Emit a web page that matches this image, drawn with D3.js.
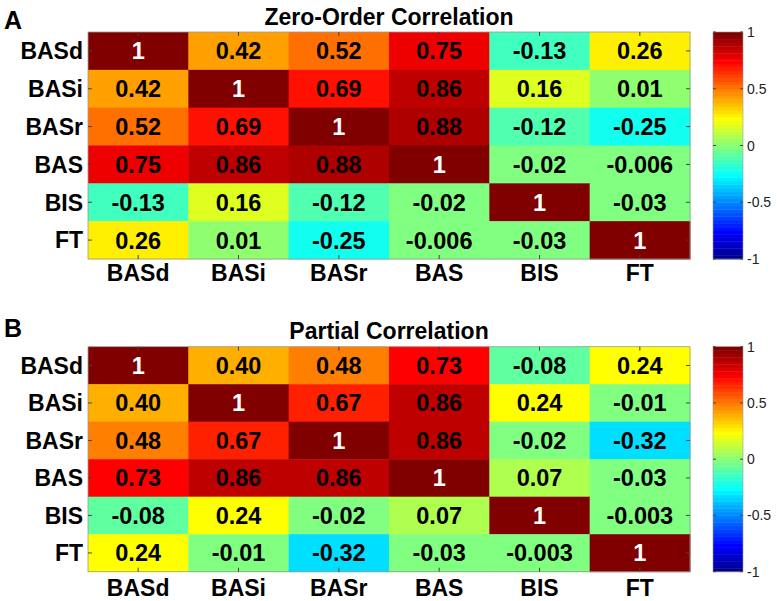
<!DOCTYPE html>
<html>
<head>
<meta charset="utf-8">
<script src="https://cdn.jsdelivr.net/npm/d3@7"></script>
<style>
  html, body { margin: 0; padding: 0; background: #fff; }
  svg { display: block; font-family: "Liberation Sans", Arial, Helvetica, sans-serif; }
</style>
</head>
<body>
<svg id="chart" width="777" height="601"></svg>
<script>
// ---- Data ----
const categories = ["BASd", "BASi", "BASr", "BAS", "BIS", "FT"];
const zeroOrder = [
  [1, 0.42, 0.52, 0.75, -0.13, 0.26],
  [0.42, 1, 0.69, 0.86, 0.16, 0.01],
  [0.52, 0.69, 1, 0.88, -0.12, -0.25],
  [0.75, 0.86, 0.88, 1, -0.02, -0.006],
  [-0.13, 0.16, -0.12, -0.02, 1, -0.03],
  [0.26, 0.01, -0.25, -0.006, -0.03, 1]
];
const partial = [
  [1, 0.40, 0.48, 0.73, -0.08, 0.24],
  [0.40, 1, 0.67, 0.86, 0.24, -0.01],
  [0.48, 0.67, 1, 0.86, -0.02, -0.32],
  [0.73, 0.86, 0.86, 1, 0.07, -0.03],
  [-0.08, 0.24, -0.02, 0.07, 1, -0.003],
  [0.24, -0.01, -0.32, -0.03, -0.003, 1]
];
const colorbarTicks = [-1, -0.5, 0, 0.5, 1];
const colorbarTickLabels = ["-1", "-0.5", "0", "0.5", "1"];
const panelLetters = ["A", "B"];
const panelTitles = ["Zero-Order Correlation", "Partial Correlation"];

// ---- MATLAB jet(64) colormap ----
function jetMap(m) {
  const n = Math.ceil(m / 4);
  const u = [];
  for (let i = 1; i <= n; i++) u.push(i / n);
  for (let i = 0; i < n - 1; i++) u.push(1);
  for (let i = n; i >= 1; i--) u.push(i / n);
  const g0 = Math.ceil(n / 2) - (m % 4 === 1 ? 1 : 0);
  const J = Array.from({length: m}, () => [0, 0, 0]);
  u.forEach((val, k) => {
    const g = g0 + k + 1, r = g + n, b = g - n;
    if (r >= 1 && r <= m) J[r - 1][0] = val;
    if (g >= 1 && g <= m) J[g - 1][1] = val;
    if (b >= 1 && b <= m) J[b - 1][2] = val;
  });
  return J.map(c => d3.rgb(Math.round(c[0] * 255), Math.round(c[1] * 255), Math.round(c[2] * 255)).toString());
}
const JET = jetMap(64);
const idxScale = d3.scaleLinear().domain([-1, 1]).range([0, 64]);
function jetColor(v) {
  let i = Math.floor(idxScale(v));
  return JET[Math.max(0, Math.min(63, i))];
}
function fmt(v) {
  let s;
  if (Math.abs(v) === 1) s = String(v);
  else if (Math.abs(v) < 0.01 && v !== 0) s = d3.format(".3f")(v);
  else s = d3.format(".2f")(v);
  return s.replace("\u2212", "-");
}

const svg = d3.select("#chart");

const panels = [
  {data: zeroOrder, top: 32, bottom: 259, titleY: 25, letterY: 29, xLabY: 281},
  {data: partial, top: 346.7, bottom: 571.7, titleY: 339, letterY: 337, xLabY: 596}
];
const left = 88, right = 690;
const cbLeft = 713, cbRight = 743;

panels.forEach((p, pi) => {
  const g = svg.append("g");
  const x = d3.scaleBand().domain(categories).range([left, right]).padding(0);
  const y = d3.scaleBand().domain(categories).range([p.top, p.bottom]).padding(0);

  // cells
  const cells = [];
  p.data.forEach((row, r) => row.forEach((v, c) => cells.push({r, c, v})));
  g.selectAll("rect.cell").data(cells).join("rect")
    .attr("class", "cell")
    .attr("x", d => x(categories[d.c]))
    .attr("y", d => y(categories[d.r]))
    .attr("width", x.bandwidth() + 0.5)
    .attr("height", y.bandwidth() + 0.5)
    .attr("fill", d => jetColor(d.v));

  g.selectAll("text.val").data(cells).join("text")
    .attr("class", "val")
    .attr("x", d => x(categories[d.c]) + x.bandwidth() / 2)
    .attr("y", d => y(categories[d.r]) + y.bandwidth() / 2)
    .attr("dy", "0.36em")
    .attr("text-anchor", "middle")
    .attr("font-size", 23.5)
    .attr("font-weight", "bold")
    .attr("fill", d => d.v === 1 ? "#fff" : "#000")
    .text(d => fmt(d.v));

  // frame
  g.append("rect")
    .attr("x", left).attr("y", p.top)
    .attr("width", right - left).attr("height", p.bottom - p.top)
    .attr("fill", "none").attr("stroke", "#999").attr("stroke-width", 0.8);

  // ticks (inward)
  const tk = 4;
  categories.forEach(cat => {
    const cx = x(cat) + x.bandwidth() / 2;
    const cy = y(cat) + y.bandwidth() / 2;
    g.append("line").attr("x1", cx).attr("x2", cx).attr("y1", p.top).attr("y2", p.top + tk).attr("stroke", "#444");
    g.append("line").attr("x1", cx).attr("x2", cx).attr("y1", p.bottom).attr("y2", p.bottom - tk).attr("stroke", "#444");
    g.append("line").attr("x1", left).attr("x2", left + tk).attr("y1", cy).attr("y2", cy).attr("stroke", "#444");
    g.append("line").attr("x1", right).attr("x2", right - tk).attr("y1", cy).attr("y2", cy).attr("stroke", "#444");
  });

  // axis labels
  g.selectAll("text.ylab").data(categories).join("text")
    .attr("class", "ylab")
    .attr("x", left - 5)
    .attr("y", d => y(d) + y.bandwidth() / 2)
    .attr("dy", "0.36em")
    .attr("text-anchor", "end")
    .attr("font-size", 23)
    .attr("font-weight", "bold")
    .text(d => d);
  g.selectAll("text.xlab").data(categories).join("text")
    .attr("class", "xlab")
    .attr("x", d => x(d) + x.bandwidth() / 2)
    .attr("y", p.xLabY)
    .attr("text-anchor", "middle")
    .attr("font-size", 23)
    .attr("font-weight", "bold")
    .text(d => d);

  // title and letter
  g.append("text").attr("x", (left + right) / 2).attr("y", p.titleY)
    .attr("text-anchor", "middle").attr("font-size", 23).attr("font-weight", "bold")
    .text(panelTitles[pi]);
  g.append("text").attr("x", 4).attr("y", p.letterY)
    .attr("font-size", 25).attr("font-weight", "bold")
    .text(panelLetters[pi]);

  // colorbar
  const cy = d3.scaleLinear().domain([-1, 1]).range([p.bottom, p.top]);
  const bandH = (p.bottom - p.top) / 64;
  g.selectAll("rect.cb").data(JET).join("rect")
    .attr("class", "cb")
    .attr("x", cbLeft)
    .attr("y", (d, i) => cy(-1 + (i + 1) * 2 / 64))
    .attr("width", cbRight - cbLeft)
    .attr("height", bandH + 0.4)
    .attr("fill", d => d);
  g.append("rect").attr("x", cbLeft).attr("y", p.top)
    .attr("width", cbRight - cbLeft).attr("height", p.bottom - p.top)
    .attr("fill", "none").attr("stroke", "#999").attr("stroke-width", 0.6);
  colorbarTicks.forEach((t, i) => {
    const ty = cy(t);
    g.append("line").attr("x1", cbLeft).attr("x2", cbLeft + 3).attr("y1", ty).attr("y2", ty).attr("stroke", "#444");
    g.append("line").attr("x1", cbRight).attr("x2", cbRight - 3).attr("y1", ty).attr("y2", ty).attr("stroke", "#444");
    g.append("text").attr("x", cbRight + 4).attr("y", ty).attr("dy", "0.36em")
      .attr("font-size", 14).attr("fill", "#222")
      .text(colorbarTickLabels[i]);
  });
});
</script>
</body>
</html>
